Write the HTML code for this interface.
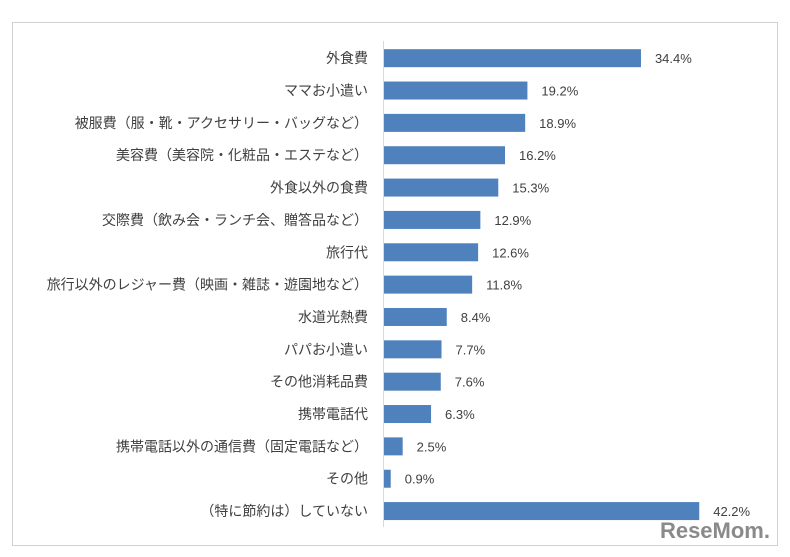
<!DOCTYPE html>
<html><head><meta charset="utf-8"><style>
body{margin:0;background:#fff;}
svg{display:block;font-family:"Liberation Sans","Noto Sans CJK JP",sans-serif;}
</style></head><body>
<svg id="chart" width="790" height="557">
<rect x="12.5" y="22.5" width="765" height="523" fill="#fff" stroke="#d0d0d0"/>
<line x1="383.5" y1="41" x2="383.5" y2="527" stroke="#d9d9d9"/>
<g id="bars"></g>
<text x="770" y="538" text-anchor="end" font-size="22" font-weight="bold" fill="#8a8a8a">ReseMom.</text>
</svg>
<script>
const categories=["外食費","ママお小遣い","被服費（服・靴・アクセサリー・バッグなど）","美容費（美容院・化粧品・エステなど）","外食以外の食費","交際費（飲み会・ランチ会、贈答品など）","旅行代","旅行以外のレジャー費（映画・雑誌・遊園地など）","水道光熱費","パパお小遣い","その他消耗品費","携帯電話代","携帯電話以外の通信費（固定電話など）","その他","（特に節約は）していない"];
const values=[34.4,19.2,18.9,16.2,15.3,12.9,12.6,11.8,8.4,7.7,7.6,6.3,2.5,0.9,42.2];
const x0=384, pxPer=7.47, yTop=42, step=32.35, barH=18;
const xs=v=>x0+v*pxPer;
const yc=i=>yTop+step*(i+0.5);
const g=document.getElementById('bars');
const ns='http://www.w3.org/2000/svg';
categories.forEach((c,i)=>{
  const r=document.createElementNS(ns,'rect');
  r.setAttribute('x',x0);r.setAttribute('y',yc(i)-barH/2);
  r.setAttribute('width',xs(values[i])-x0);r.setAttribute('height',barH);
  r.setAttribute('fill','#4f81bd');
  
  
  g.appendChild(r);
  const t=document.createElementNS(ns,'text');
  t.setAttribute('x',368);t.setAttribute('y',yc(i)+5);
  t.setAttribute('text-anchor','end');t.setAttribute('font-size','14');t.setAttribute('fill','#404040');
  t.textContent=c;
  
  
  g.appendChild(t);
  const v=document.createElementNS(ns,'text');
  v.setAttribute('x',xs(values[i])+14);v.setAttribute('y',yc(i)+5);
  v.setAttribute('font-size','13');v.setAttribute('fill','#404040');
  v.textContent=values[i].toFixed(1)+'%';
  
  
  g.appendChild(v);
});
</script>
</body></html>
